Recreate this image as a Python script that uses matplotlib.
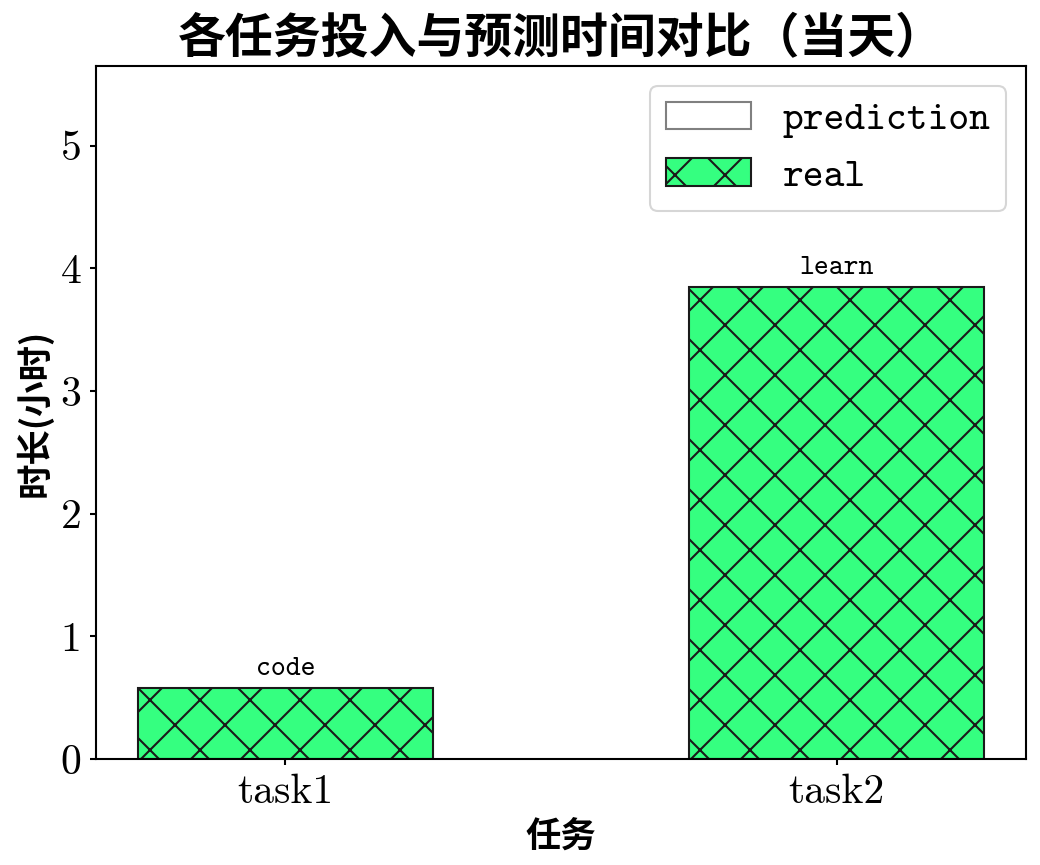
import numpy as np
import matplotlib
matplotlib.use('Agg')
import matplotlib.pyplot as plt

# data
tasks = ['task1', 'task2']
names = ['code', 'learn']
real = [0.58, 3.85]
prediction = [0.0, 0.0]

plt.rcParams['hatch.linewidth'] = 0.5
plt.rcParams['axes.linewidth'] = 0.5
plt.rcParams['axes.unicode_minus'] = False

cjk = ['Noto Sans CJK SC', 'DejaVu Sans']

fig = plt.figure(figsize=(1040/300, 865/300), dpi=300)
ax = fig.add_axes([96/1040, 1-759/865, 930/1040, 693/865])

x = np.arange(len(tasks))
w = 0.534
ax.bar(x, prediction, w, color='white', edgecolor='gray', linewidth=0.5,
       label='prediction')
bars = ax.bar(x, real, w, color='#35ff80', edgecolor='#1a1a1a', linewidth=0.5,
              hatch='xx', label='real')

for b, n in zip(bars, names):
  ax.text(b.get_x() + b.get_width()/2, b.get_height() + 0.05, n,
          ha='center', va='bottom', fontsize=6.8, family='cmtt10')

ax.set_ylim(0, 5.65)
ax.set_xticks(x)
ax.set_xticklabels(tasks, family='cmr10', fontsize=10)
ax.set_yticks(range(6))
ax.set_yticklabels([str(i) for i in range(6)], family='cmr10', fontsize=10)
ax.tick_params(length=1.5, width=0.5, pad=2)

ax.set_xlabel('任务', family=cjk, fontsize=8.5, fontweight='bold', labelpad=2)
ax.set_ylabel('时长(小时)', family=cjk, fontsize=8.5, fontweight='bold', labelpad=2)
ax.set_title('各任务投入与预测时间对比（当天）', family=cjk, fontsize=11.5,
             fontweight='bold', pad=3)

leg = ax.legend(loc='upper right', handlelength=2.15,
                prop={'family': 'cmtt10', 'size': 9.5})
leg.get_frame().set_linewidth(0.5)

fig.savefig('out.png', dpi=300)
